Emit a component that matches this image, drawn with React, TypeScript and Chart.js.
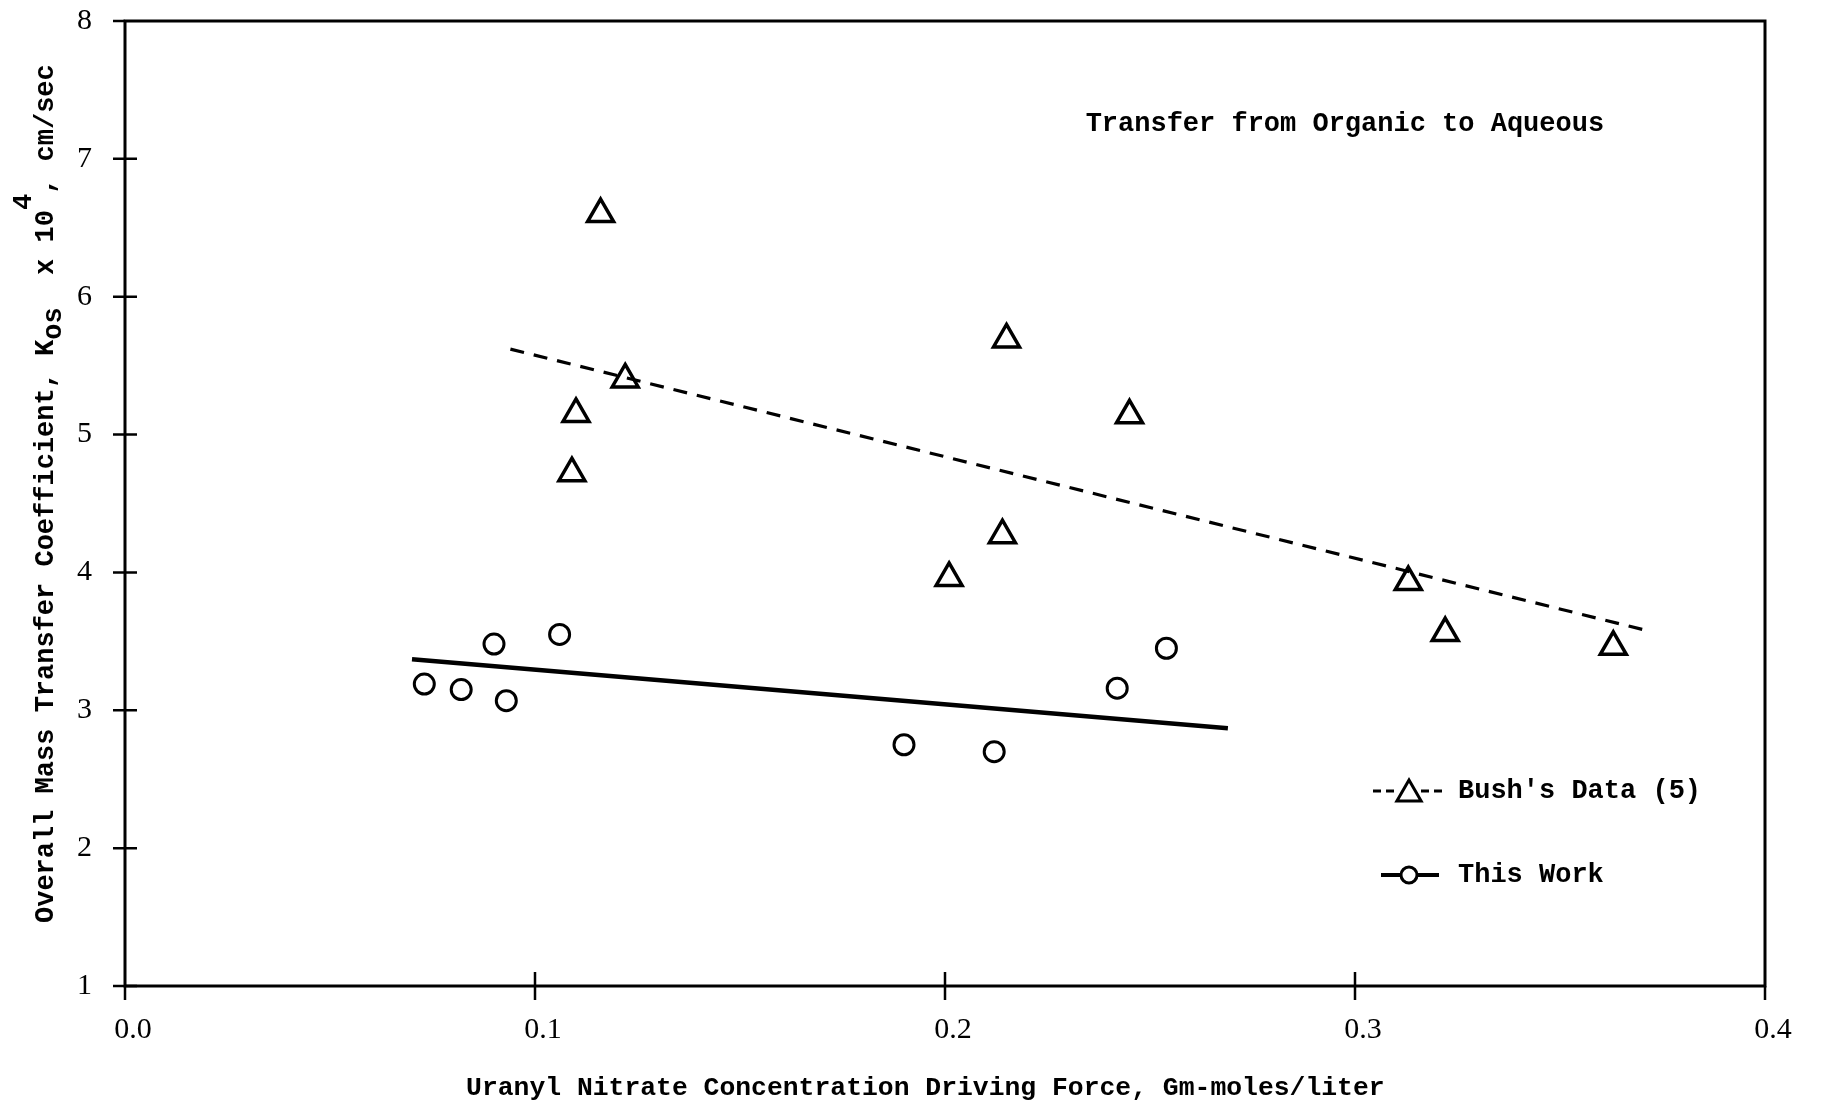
import React, { useEffect, useRef } from "react";
import { Chart, registerables } from "chart.js";

Chart.register(...registerables);

// Bush's Data (5) — triangles
const bushX = [0.116, 0.122, 0.110, 0.109, 0.215, 0.245, 0.214, 0.201, 0.313, 0.322, 0.363];
const bushY = [6.60, 5.40, 5.15, 4.72, 5.69, 5.14, 4.27, 3.96, 3.93, 3.56, 3.46];
// This Work — circles
const workX = [0.073, 0.082, 0.090, 0.093, 0.106, 0.190, 0.212, 0.242, 0.254];
const workY = [3.19, 3.15, 3.48, 3.07, 3.55, 2.75, 2.70, 3.16, 3.45];
// Fitted lines
const bushFitX = [0.094, 0.371];
const bushFitY = [5.62, 3.58];
const workFitX = [0.070, 0.269];
const workFitY = [3.37, 2.87];
// Ticks
const xTicks = [0, 0.1, 0.2, 0.3, 0.4];
const yTicks = [1, 2, 3, 4, 5, 6, 7, 8];

const annotation = "Transfer from Organic to Aqueous";
const annotationX = 0.2343;
const annotationY = 7.25;
const xTitle = "Uranyl Nitrate Concentration Driving Force, Gm-moles/liter";
const legendBush = "Bush's Data (5)";
const legendWork = "This Work";

const TYPE = (size: number) => `bold ${size}px "Liberation Mono", "DejaVu Sans Mono", monospace`;
const TICKFONT = { family: '"Liberation Serif", serif', size: 30 };

function pts(xs: number[], ys: number[]) {
  return xs.map((x, i) => ({ x, y: ys[i] }));
}

function drawTriangle(ctx: CanvasRenderingContext2D, x: number, y: number, r: number) {
  ctx.beginPath();
  ctx.moveTo(x, y - r);
  ctx.lineTo(x + Math.sin(Math.PI / 3) * r, y + r / 2);
  ctx.lineTo(x - Math.sin(Math.PI / 3) * r, y + r / 2);
  ctx.closePath();
  ctx.fillStyle = "#fff";
  ctx.fill();
  ctx.stroke();
}

export default function App() {
  const ref = useRef<HTMLCanvasElement>(null);

  useEffect(() => {
    const canvas = ref.current!;

    const deco = {
      id: "deco",
      beforeDraw(chart: any) {
        const ctx = chart.ctx;
        ctx.save();
        ctx.fillStyle = "#fff";
        ctx.fillRect(0, 0, chart.width, chart.height);
        ctx.restore();
      },
      beforeDatasetsDraw(chart: any) {
        const ctx: CanvasRenderingContext2D = chart.ctx;
        const ca = chart.chartArea;
        const xs = chart.scales.x;
        const ys = chart.scales.y;
        ctx.save();
        ctx.strokeStyle = "#000";
        ctx.lineWidth = 3;
        ctx.strokeRect(ca.left, ca.top, ca.right - ca.left, ca.bottom - ca.top);
        ctx.lineWidth = 2.5;
        ctx.beginPath();
        yTicks.forEach((v) => {
          const py = ys.getPixelForValue(v);
          ctx.moveTo(ca.left - 12, py);
          ctx.lineTo(v === yTicks[yTicks.length - 1] ? ca.left : ca.left + 12, py);
        });
        xTicks.forEach((v, i) => {
          const px = xs.getPixelForValue(v);
          const inner = i === 0 || i === xTicks.length - 1 ? ca.bottom : ca.bottom - 14;
          ctx.moveTo(px, inner);
          ctx.lineTo(px, ca.bottom + 14);
        });
        ctx.stroke();
        ctx.restore();
      },
      afterDraw(chart: any) {
        const ctx: CanvasRenderingContext2D = chart.ctx;
        const ca = chart.chartArea;
        const xs = chart.scales.x;
        const ys = chart.scales.y;
        ctx.save();
        ctx.fillStyle = "#000";
        ctx.strokeStyle = "#000";

        // annotation
        ctx.font = TYPE(27);
        ctx.textAlign = "left";
        ctx.textBaseline = "middle";
        ctx.fillText(annotation, xs.getPixelForValue(annotationX), ys.getPixelForValue(annotationY));

        // x title
        ctx.font = TYPE(26.4);
        ctx.textAlign = "center";
        ctx.fillText(xTitle, ca.left + (ca.right - ca.left) * 0.488, ca.bottom + 102);

        // y title (rotated, with subscript and superscript)
        ctx.save();
        ctx.translate(46, ca.top + 902);
        ctx.rotate(-Math.PI / 2);
        ctx.font = TYPE(27);
        ctx.textAlign = "left";
        ctx.textBaseline = "middle";
        let cx = 0;
        const piece = (t: string, dy: number) => {
          ctx.fillText(t, cx, dy);
          cx += ctx.measureText(t).width;
        };
        piece("Overall Mass Transfer Coefficient, K", 0);
        piece("os", 8);
        piece("  x 10", 0);
        piece("4", -22);
        piece(", cm/sec", 0);
        ctx.restore();

        // legend
        const lx = ca.left + (1409 - 125);
        const ly1 = ca.top + (791 - 21);
        const ly2 = ca.top + (875 - 21);
        const tx = ca.left + (1458 - 125);
        ctx.lineWidth = 3;
        ctx.setLineDash([8, 5]);
        ctx.beginPath();
        ctx.moveTo(lx - 36, ly1);
        ctx.lineTo(lx - 12, ly1);
        ctx.moveTo(lx + 12, ly1);
        ctx.lineTo(lx + 38, ly1);
        ctx.stroke();
        ctx.setLineDash([]);
        drawTriangle(ctx, lx, ly1 + 3, 14);
        ctx.lineWidth = 4;
        ctx.beginPath();
        ctx.moveTo(lx - 28, ly2);
        ctx.lineTo(lx + 30, ly2);
        ctx.stroke();
        ctx.lineWidth = 3;
        ctx.beginPath();
        ctx.arc(lx, ly2, 8, 0, Math.PI * 2);
        ctx.fillStyle = "#fff";
        ctx.fill();
        ctx.stroke();
        ctx.fillStyle = "#000";
        ctx.font = TYPE(27);
        ctx.textAlign = "left";
        ctx.textBaseline = "middle";
        ctx.fillText(legendBush, tx, ly1);
        ctx.fillText(legendWork, tx, ly2);
        ctx.restore();
      },
    };

    const chart = new Chart(canvas, {
      type: "scatter",
      data: {
        datasets: [
          {
            label: "Bush fit",
            data: pts(bushFitX, bushFitY),
            showLine: true,
            borderColor: "#000",
            borderWidth: 3.2,
            borderDash: [14, 10],
            pointRadius: 0,
          },
          {
            label: "This Work fit",
            data: pts(workFitX, workFitY),
            showLine: true,
            borderColor: "#000",
            borderWidth: 4.5,
            pointRadius: 0,
          },
          {
            label: legendBush,
            data: pts(bushX, bushY),
            pointStyle: "triangle",
            pointRadius: 15,
            pointBorderColor: "#000",
            pointBackgroundColor: "rgba(255,255,255,0)",
            pointBorderWidth: 3.5,
          },
          {
            label: legendWork,
            data: pts(workX, workY),
            pointStyle: "circle",
            pointRadius: 10,
            pointBorderColor: "#000",
            pointBackgroundColor: "rgba(255,255,255,0)",
            pointBorderWidth: 3,
          },
        ],
      } as any,
      options: {
        responsive: false,
        animation: false,
        devicePixelRatio: 1,
        layout: { padding: { top: 21, right: 56, left: 0, bottom: 0 } },
        plugins: { legend: { display: false }, tooltip: { enabled: false } },
        scales: {
          x: {
            type: "linear",
            min: 0,
            max: 0.4,
            afterBuildTicks: (s: any) => {
              s.ticks = xTicks.map((v) => ({ value: v }));
            },
            ticks: {
              callback: (v: any) => Number(v).toFixed(1),
              font: TICKFONT,
              color: "#000",
              padding: 26,
              labelOffset: 8,
              maxRotation: 0,
              autoSkip: false,
            },
            grid: { display: false, drawTicks: false },
            border: { display: false },
            afterFit: (s: any) => {
              s.height = 121;
              s.paddingLeft = 0;
              s.paddingRight = 0;
            },
          },
          y: {
            type: "linear",
            min: 1,
            max: 8,
            afterBuildTicks: (s: any) => {
              s.ticks = yTicks.map((v) => ({ value: v }));
            },
            ticks: {
              callback: (v: any) => String(v),
              font: TICKFONT,
              color: "#000",
              padding: 33,
              autoSkip: false,
            },
            grid: { display: false, drawTicks: false },
            border: { display: false },
            afterFit: (s: any) => {
              s.width = 125;
              s.paddingTop = 0;
              s.paddingBottom = 0;
            },
          },
        },
      } as any,
      plugins: [deco],
    });
    return () => chart.destroy();
  }, []);

  return (
    <div style={{ position: "fixed", left: 0, top: 0, width: 1821, height: 1107, background: "#fff" }}>
      <canvas ref={ref} width={1821} height={1107} style={{ display: "block" }} />
    </div>
  );
}
